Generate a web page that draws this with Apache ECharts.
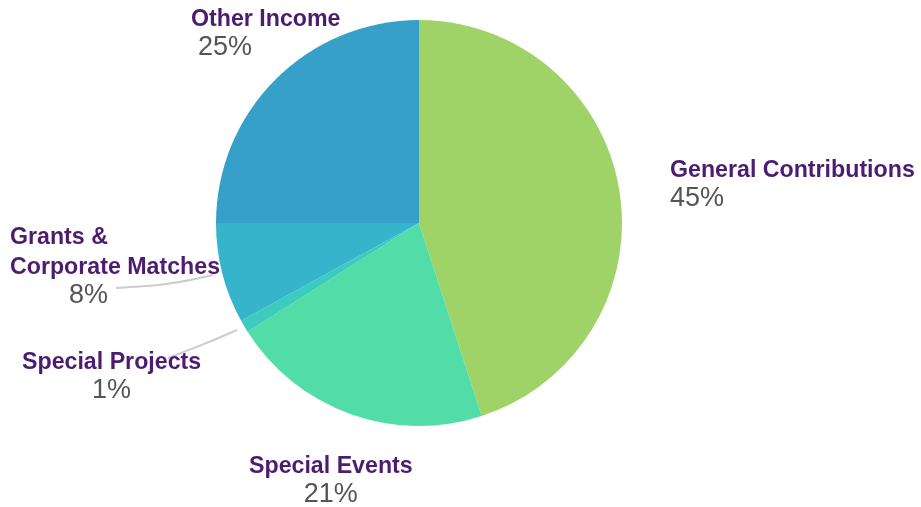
<!DOCTYPE html>
<html>
<head>
<meta charset="utf-8">
<script src="https://cdn.jsdelivr.net/npm/echarts@6/dist/echarts.min.js"></script>
<style>html,body{margin:0;padding:0;background:#fff}#c{width:921px;height:507px}</style>
</head>
<body>
<div id="c"></div>
<script>
// Data
var categories = ['General Contributions', 'Special Events', 'Special Projects', 'Grants &\nCorporate Matches', 'Other Income'];
var values = [45, 21, 1, 8, 25];
var colors = ['#9fd267', '#52dca8', '#3ccbbd', '#36b4cc', '#36a0c9'];

// Label placement (styling / layout only)
var labelLayoutCfg = [
  {x: 670, y: 156, pctAlign: 'left', pctPad: 0},
  {x: 249, y: 452, pctAlign: 'center', pctPad: 0},
  {x: 22, y: 348, pctAlign: 'center', pctPad: 0, line: [[237, 330], [205, 344], [168, 358]]},
  {x: 10, y: 223, pctAlign: 'left', pctPad: 59, line: [[213, 275], [175, 284], [116, 288]]},
  {x: 191, y: 5, pctAlign: 'left', pctPad: 7}
];

var chart = echarts.init(document.getElementById('c'), null, {renderer: 'canvas'});
var data = categories.map(function (n, i) {
  var cfg = labelLayoutCfg[i];
  return {
    name: n,
    value: values[i],
    itemStyle: {color: colors[i]},
    label: {
      rich: {
        n: {fontFamily: 'Liberation Sans, Arial, sans-serif', fontWeight: 'bold', fontSize: 23.2, color: '#4b1c6f', lineHeight: 30},
        p: {fontFamily: 'Liberation Sans, Arial, sans-serif', fontSize: 27, color: '#555555', lineHeight: 26, align: cfg.pctAlign, padding: [0, 0, 0, cfg.pctPad]}
      }
    },
    labelLine: {show: !!cfg.line}
  };
});

chart.setOption({
  animation: false,
  backgroundColor: '#ffffff',
  series: [{
    type: 'pie',
    center: [419, 223],
    radius: [0, 203],
    startAngle: 90,
    clockwise: true,
    avoidLabelOverlap: false,
    data: data,
    itemStyle: {borderWidth: 0},
    label: {
      show: true,
      position: 'outside',
      formatter: function (p) {
        var lines = p.name.split('\n').map(function (s) { return '{n|' + s + '}'; });
        return lines.join('\n') + '\n{p|' + p.value + '%}';
      }
    },
    labelLine: {
      smooth: 0.4,
      lineStyle: {color: '#cccccc', width: 2}
    },
    labelLayout: function (params) {
      var cfg = labelLayoutCfg[params.dataIndex];
      var r = {x: cfg.x, y: cfg.y, align: 'left', verticalAlign: 'top'};
      if (cfg.line) r.labelLinePoints = cfg.line;
      return r;
    }
  }]
});
</script>
</body>
</html>
